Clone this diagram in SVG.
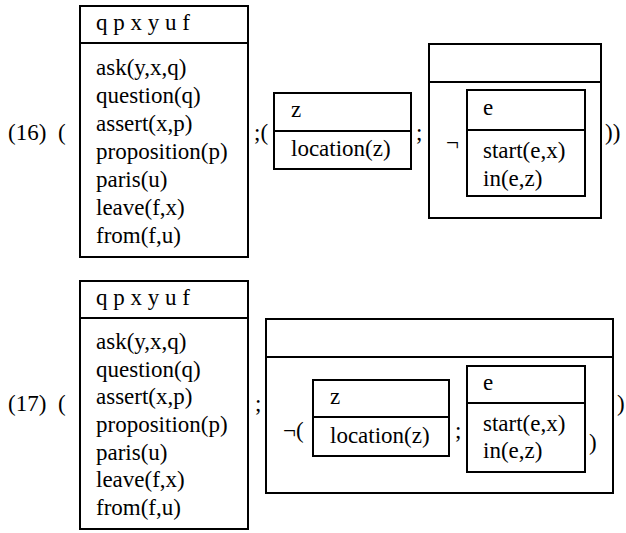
<svg xmlns="http://www.w3.org/2000/svg" width="626" height="533" viewBox="0 0 626 533">
  <style>
    .box { fill: none; stroke: #000; stroke-width: 2; }
    .div { stroke: #000; stroke-width: 2; }
    text { font-family: "Liberation Serif", "Times New Roman", serif; font-size: 23px; fill: #000; }
  </style>
  <rect width="626" height="533" fill="#fff"/>

  <!-- (16) -->
  <g id="label16">
    <text x="8" y="140">(16)</text>
    <text x="58" y="140">(</text>
    <text x="254" y="140">;(</text>
    <text x="416" y="140">;</text>
    <text x="446" y="150">¬</text>
    <text x="605" y="140">))</text>
  </g>

  <g id="drs16-main">
    <rect class="box" x="80" y="6" width="168" height="251"/>
    <line class="div" x1="80" y1="43" x2="248" y2="43"/>
    <text x="96" y="30">q p x y u f</text>
    <text x="96" y="75">ask(y,x,q)</text>
    <text x="96" y="103">question(q)</text>
    <text x="96" y="131">assert(x,p)</text>
    <text x="96" y="159">proposition(p)</text>
    <text x="96" y="187">paris(u)</text>
    <text x="96" y="215">leave(f,x)</text>
    <text x="96" y="243">from(f,u)</text>
  </g>

  <g id="drs16-z">
    <rect class="box" x="274" y="93" width="137" height="76"/>
    <line class="div" x1="274" y1="131" x2="411" y2="131"/>
    <text x="291" y="117">z</text>
    <text x="291" y="156">location(z)</text>
  </g>

  <g id="drs16-outer">
    <rect class="box" x="429" y="44" width="172" height="174"/>
    <line class="div" x1="429" y1="82" x2="601" y2="82"/>
  </g>

  <g id="drs16-e">
    <rect class="box" x="467" y="90" width="118" height="106"/>
    <line class="div" x1="467" y1="130" x2="585" y2="130"/>
    <text x="483" y="115">e</text>
    <text x="483" y="158">start(e,x)</text>
    <text x="483" y="186">in(e,z)</text>
  </g>

  <!-- (17) -->
  <g id="label17">
    <text x="8" y="411">(17)</text>
    <text x="58" y="411">(</text>
    <text x="255" y="411">;</text>
    <text x="283" y="438">¬(</text>
    <text x="455" y="438">;</text>
    <text x="589" y="450">)</text>
    <text x="617" y="411">)</text>
  </g>

  <g id="drs17-main">
    <rect class="box" x="80" y="281" width="168" height="248"/>
    <line class="div" x1="80" y1="318" x2="248" y2="318"/>
    <text x="96" y="305">q p x y u f</text>
    <text x="96" y="349">ask(y,x,q)</text>
    <text x="96" y="377">question(q)</text>
    <text x="96" y="404">assert(x,p)</text>
    <text x="96" y="432">proposition(p)</text>
    <text x="96" y="460">paris(u)</text>
    <text x="96" y="487">leave(f,x)</text>
    <text x="96" y="515">from(f,u)</text>
  </g>

  <g id="drs17-outer">
    <rect class="box" x="266" y="319" width="347" height="174"/>
    <line class="div" x1="266" y1="357" x2="613" y2="357"/>
  </g>

  <g id="drs17-z">
    <rect class="box" x="313" y="380" width="136" height="76"/>
    <line class="div" x1="313" y1="417" x2="449" y2="417"/>
    <text x="330" y="404">z</text>
    <text x="330" y="443">location(z)</text>
  </g>

  <g id="drs17-e">
    <rect class="box" x="467" y="366" width="118" height="106"/>
    <line class="div" x1="467" y1="403" x2="585" y2="403"/>
    <text x="483" y="390">e</text>
    <text x="483" y="431">start(e,x)</text>
    <text x="483" y="458">in(e,z)</text>
  </g>
</svg>
